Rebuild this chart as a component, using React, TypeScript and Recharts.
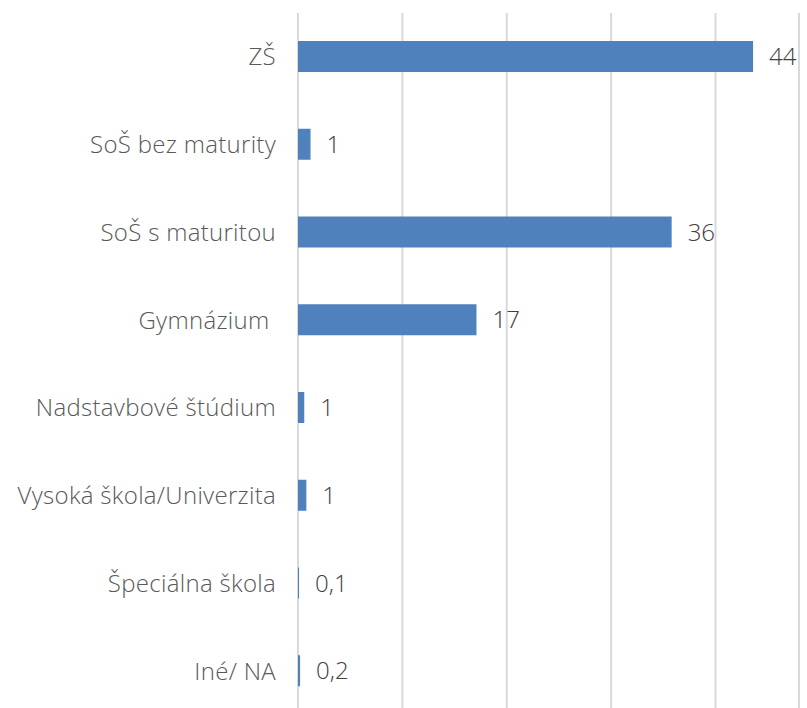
import { BarChart, Bar, XAxis, YAxis, CartesianGrid, LabelList } from 'recharts';

const categories = [
  'ZŠ',
  'SoŠ bez maturity',
  'SoŠ s maturitou',
  'Gymnázium\u00a0',
  'Nadstavbové štúdium',
  'Vysoká škola/Univerzita',
  'Špeciálna škola',
  'Iné/ NA',
];

// estimated bar lengths
const values = [43.6, 1.2, 35.8, 17.1, 0.6, 0.8, 0.1, 0.2];

// labels as printed on the chart
const valueLabels = ['44', '1', '36', '17', '1', '1', '0,1', '0,2'];

const xTicks = [0, 10, 20, 30, 40];

const BAR_COLOR = '#4f81bd';
const GRID_COLOR = '#d9d9d9';
const FONT = '"Open Sans", sans-serif';

const data = categories.map((name, i) => ({ name, value: values[i], label: valueLabels[i] }));

export default function App() {
  return (
    <div style={{ position: 'absolute', top: 0, left: 0, width: 807, height: 708, overflow: 'hidden', background: '#fff' }}>
      <BarChart
        width={807}
        height={730}
        data={data}
        layout="vertical"
        barSize={31}
        margin={{ top: 13, right: 8, bottom: 15, left: 0 }}
      >
        <CartesianGrid horizontal={false} stroke={GRID_COLOR} strokeWidth={2} />
        <XAxis type="number" domain={[0, 48]} ticks={xTicks} hide />
        <YAxis
          type="category"
          dataKey="name"
          width={298}
          axisLine={false}
          tickLine={false}
          tickMargin={22}
          tickSize={0}
          tick={{ fill: '#595959', fontSize: 24, fontFamily: FONT, fontWeight: 300, letterSpacing: 0.3 }}
        />
        <Bar dataKey="value" fill={BAR_COLOR} isAnimationActive={false}>
          <LabelList
            dataKey="label"
            position="right"
            offset={16}
            fill="#404040"
            fontSize={24}
            fontFamily={FONT}
            fontWeight={300}
          />
        </Bar>
      </BarChart>
    </div>
  );
}
